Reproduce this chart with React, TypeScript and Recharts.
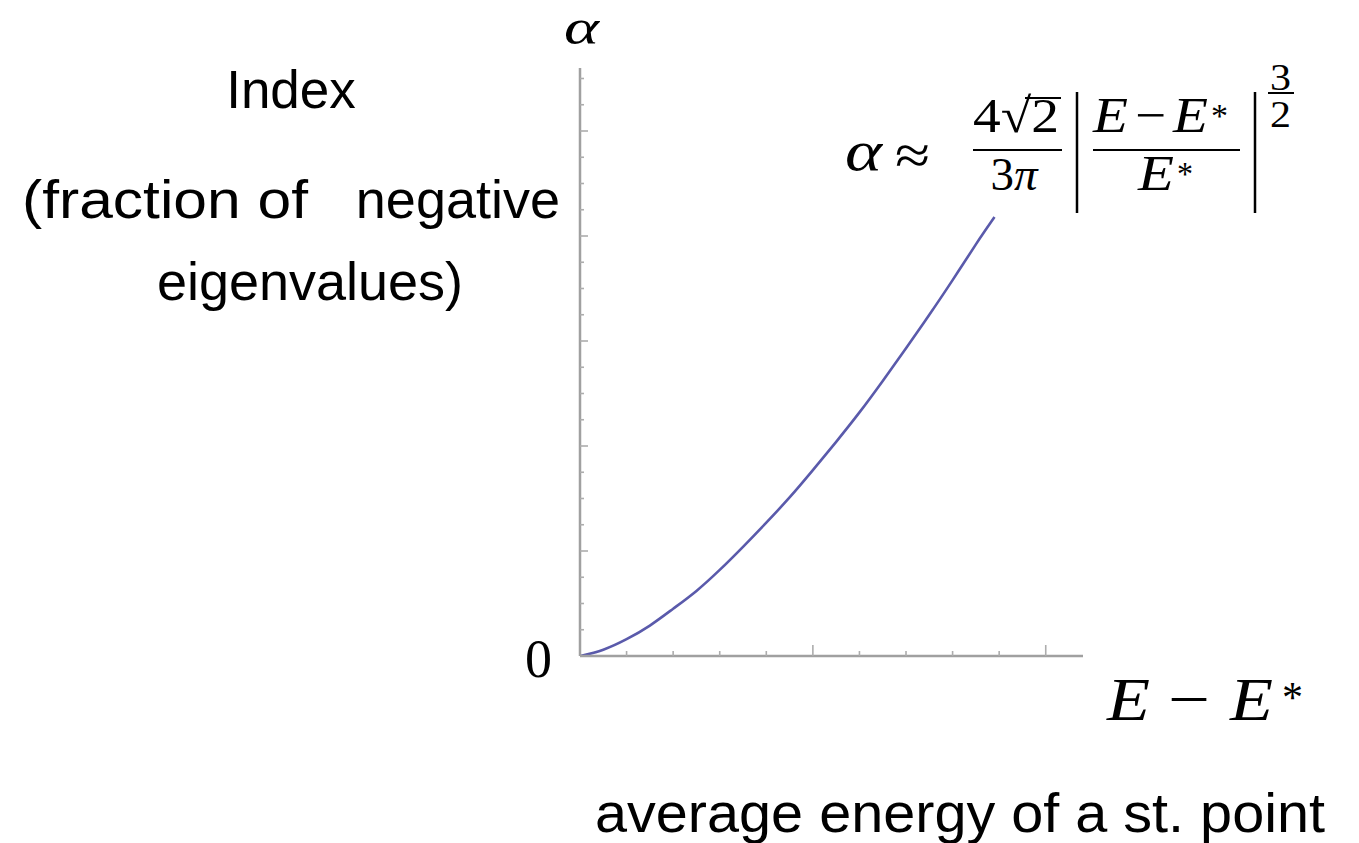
import React from 'react';
import { LineChart, Line, XAxis, YAxis } from 'recharts';

// Energy above the threshold E - E* (axis units)
const energyGap = [0, 0.5, 1, 1.5, 2, 2.5, 3, 3.5, 4, 4.5, 5, 5.5, 6, 6.5, 7, 7.5, 8, 8.5, 8.9];
// Index alpha: fraction of negative eigenvalues (axis units)
const indexFraction = [0, 0.06, 0.16, 0.29, 0.45, 0.62, 0.82, 1.04, 1.27, 1.51, 1.77, 2.04, 2.32, 2.62, 2.93, 3.25, 3.58, 3.92, 4.18];

const xTicks = [1, 2, 3, 4, 5, 6, 7, 8, 9, 10];
const xMajorTicks = [5, 10];
const yTicks = [0, 0.25, 0.5, 0.75, 1, 1.25, 1.5, 1.75, 2, 2.25, 2.5, 2.75, 3, 3.25, 3.5, 3.75, 4, 4.25, 4.5, 4.75, 5, 5.25, 5.5];
const yMajorTicks = [1, 2, 3, 4, 5];
const originLabel = '0';

const data = energyGap.map((e, i) => ({ e, alpha: indexFraction[i] }));

const W = 1359;
const H = 843;
const AXIS = '#a0a0a0';
const TICK = '#adadad';
const SANS = '"Liberation Sans", Arial, sans-serif';
const SERIF = '"Liberation Serif", "Times New Roman", serif';

const XTick = (props: any) => {
  const { x, y, payload } = props;
  const len = xMajorTicks.includes(payload.value) ? 11 : 5;
  return <line x1={x} x2={x} y1={y} y2={y - len} stroke={TICK} strokeWidth={1.6} />;
};

const YTick = (props: any) => {
  const { x, y, payload } = props;
  if (payload.value === 0) {
    return (
      <text x={x - 28} y={y + 21} textAnchor="end" fontFamily={SERIF} fontSize={54} fill="#000">
        {originLabel}
      </text>
    );
  }
  const len = yMajorTicks.includes(payload.value) ? 8 : 4;
  return <line x1={x} x2={x + len} y1={y} y2={y} stroke={TICK} strokeWidth={1.6} />;
};

// a single math glyph, fitted to the given width
const MathGlyph = ({ x, y, size, w, ch, italic = true }: any) => (
  <text
    x={x}
    y={y}
    fontFamily={SERIF}
    fontStyle={italic ? 'italic' : 'normal'}
    fontSize={size}
    textLength={w}
    lengthAdjust="spacingAndGlyphs"
  >
    {ch}
  </text>
);

const Rule = ({ x1, x2, y1, y2, w = 2.2 }: any) => (
  <line x1={x1} x2={x2} y1={y1} y2={y2} stroke="#000" strokeWidth={w} />
);

const Annotations = () => (
  <svg width={W} height={H} style={{ position: 'absolute', left: 0, top: 0, pointerEvents: 'none' }}>
    {/* y-axis symbol */}
    <MathGlyph x={564} y={44} size={50} w={35} ch="α" />

    {/* y-axis description */}
    <text x={291} y={108} textAnchor="middle" fontFamily={SANS} fontSize={53}>Index</text>
    <text x={22} y={218} fontFamily={SANS} fontSize={54} textLength={286} lengthAdjust="spacingAndGlyphs">
      (fraction of
    </text>
    <text x={560} y={218} textAnchor="end" fontFamily={SANS} fontSize={54}>negative</text>
    <text x={310} y={300} textAnchor="middle" fontFamily={SANS} fontSize={54}>eigenvalues)</text>

    {/* x-axis symbol: E − E* */}
    <MathGlyph x={1107} y={720} size={62} w={43} ch="E" />
    <MathGlyph x={1168} y={720} size={62} w={42} ch="−" italic={false} />
    <MathGlyph x={1230} y={720} size={62} w={43} ch="E" />
    <MathGlyph x={1282} y={712} size={44} w={21} ch="*" italic={false} />

    {/* x-axis description */}
    <text x={595} y={832} fontFamily={SANS} fontSize={56} textLength={730} lengthAdjust="spacingAndGlyphs">
      average energy of a st. point
    </text>

    {/* asymptotic formula: α ≈ 4√2/(3π) |(E − E*)/E*|^(3/2) */}
    <MathGlyph x={845} y={170} size={56} w={37} ch="α" />
    <MathGlyph x={895} y={174} size={56} w={35} ch="≈" italic={false} />

    <text x={973} y={132} fontFamily={SERIF} fontSize={49} textLength={86} lengthAdjust="spacingAndGlyphs">
      4√2
    </text>
    <Rule x1={1025} x2={1061} y1={98} y2={98} w={2} />
    <Rule x1={973} x2={1062} y1={150} y2={150} />
    <text x={1014} y={190} textAnchor="middle" fontFamily={SERIF} fontSize={47}>
      3<tspan fontStyle="italic">π</tspan>
    </text>

    <Rule x1={1077} x2={1077} y1={92} y2={213} w={2.5} />
    <MathGlyph x={1093} y={132} size={50} w={35} ch="E" />
    <MathGlyph x={1135} y={132} size={50} w={31} ch="−" italic={false} />
    <MathGlyph x={1173} y={132} size={50} w={35} ch="E" />
    <MathGlyph x={1211} y={127} size={34} w={17} ch="*" italic={false} />
    <Rule x1={1093} x2={1240} y1={150} y2={150} />
    <MathGlyph x={1138} y={190} size={50} w={36} ch="E" />
    <MathGlyph x={1177} y={185} size={34} w={16} ch="*" italic={false} />
    <Rule x1={1255} x2={1255} y1={92} y2={213} w={2.5} />

    <MathGlyph x={1270} y={90} size={37} w={21} ch="3" italic={false} />
    <Rule x1={1268} x2={1294} y1={93} y2={93} w={2} />
    <MathGlyph x={1270} y={127} size={37} w={21} ch="2" italic={false} />
  </svg>
);

export default function App() {
  return (
    <div style={{ position: 'absolute', left: 0, top: 0, width: W, height: H, background: '#fff' }}>
      <LineChart
        width={W}
        height={H}
        data={data}
        margin={{ top: 68, right: 276, bottom: 157, left: 520 }}
      >
        <XAxis
          type="number"
          dataKey="e"
          domain={[0, 10.8]}
          ticks={xTicks}
          interval={0}
          height={30}
          tickSize={0}
          tickMargin={0}
          tickLine={false}
          axisLine={{ stroke: AXIS, strokeWidth: 2.5 }}
          tick={<XTick />}
          allowDataOverflow
        />
        <YAxis
          type="number"
          domain={[0, 5.6]}
          ticks={yTicks}
          interval={0}
          width={60}
          tickSize={0}
          tickMargin={0}
          tickLine={false}
          axisLine={{ stroke: AXIS, strokeWidth: 2.5 }}
          tick={<YTick />}
          allowDataOverflow
        />
        <Line
          type="natural"
          dataKey="alpha"
          stroke="#5a5aab"
          strokeWidth={2.6}
          dot={false}
          isAnimationActive={false}
        />
      </LineChart>
      <Annotations />
    </div>
  );
}
